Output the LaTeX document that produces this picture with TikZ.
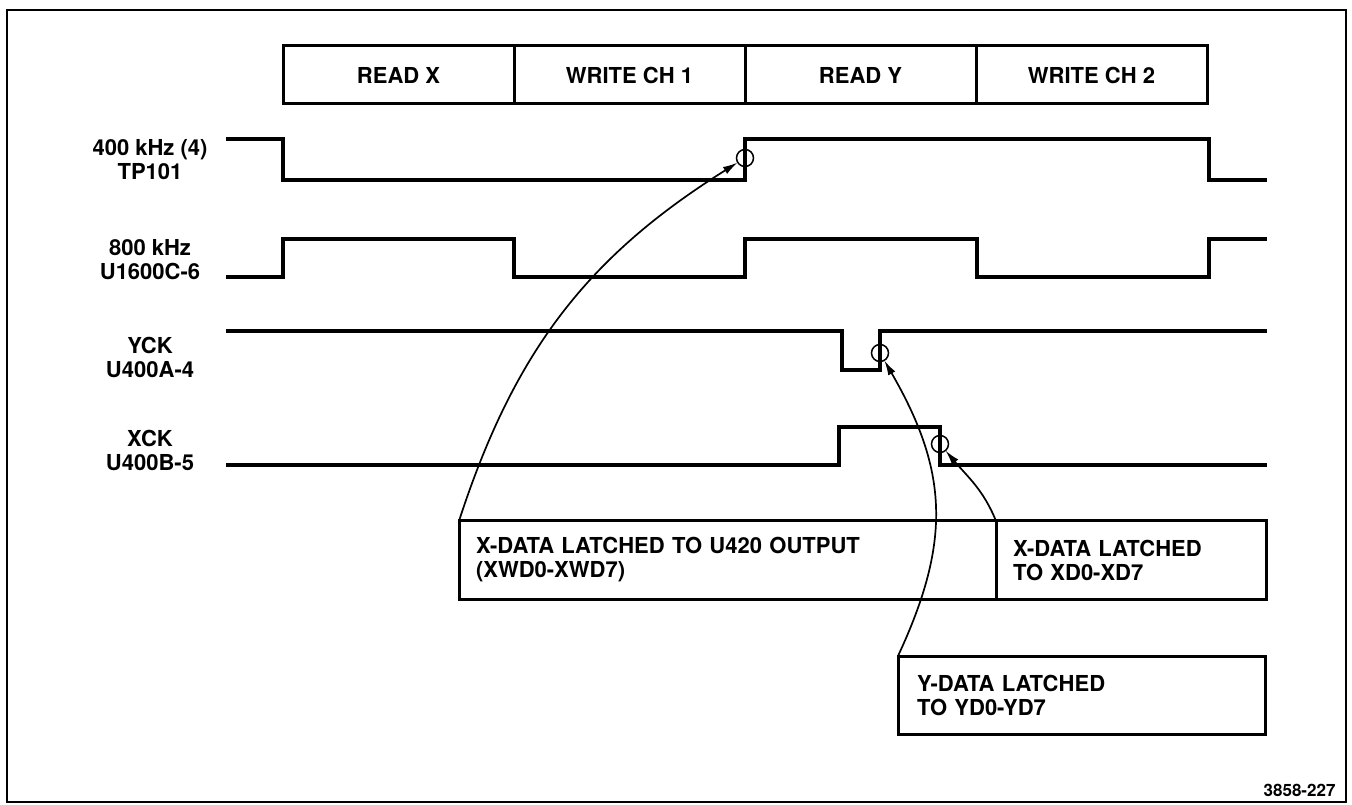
\documentclass[tikz,border=0pt]{standalone}
\usepackage{fontspec}
\setmainfont{TeX Gyre Heros}
\usetikzlibrary{positioning,arrows.meta}

\def\hifont{\fontsize{22}{24}\selectfont\bfseries}
\tikzset{
  phase/.style={draw, line width=3pt, minimum width=231pt, minimum height=58pt, outer sep=0pt, font=\hifont},
  latch/.style={draw, line width=3pt, minimum height=78pt, align=left, outer sep=0pt, inner xsep=17pt, font=\hifont},
  siglabel/.style={align=center, font=\hifont},
  wave/.style={line width=3.2pt},
  edgemark/.style={draw, circle, line width=1.5pt, minimum size=17pt, inner sep=0pt, outer sep=0pt},
  latcharrow/.style={line width=1.7pt, -{Latex[length=15pt,width=8pt]}}
}

\begin{document}
\begin{tikzpicture}[x=1pt,y=1pt]
  \useasboundingbox (0,0) rectangle (1352,804);
  \draw[line width=2pt] (7,2) rectangle (1346,794);

  \node[phase] (rdx) at (398.5,729) {READ X};
  \node[phase, right=0pt of rdx] (wr1) {WRITE CH 1};
  \node[phase, right=0pt of wr1] (rdy) {READ Y};
  \node[phase, right=0pt of rdy] (wr2) {WRITE CH 2};

  \node[siglabel] (l400) at (150,644) {400 kHz (4)\\TP101};
  \node[siglabel] (l800) at (150,544) {800 kHz\\U1600C-6};
  \node[siglabel] (lyck) at (150,447) {YCK\\U400A-4};
  \node[siglabel] (lxck) at (150,354) {XCK\\U400B-5};

  \draw[wave] (226,665) -| (283,624) -| (745,665) -| (1209,624) -- (1267,624);
  \draw[wave] (226,527) -| (283,565) -| (514,527) -| (745,565) -| (977,527) -| (1209,565) -- (1267,565);
  \draw[wave] (226,473) -| (842,434) -| (880,473) -- (1267,473);
  \draw[wave] (226,339) -| (839,377) -| (940,339) -- (1267,339);

  \node[edgemark] (m400) at (745,646) {};
  \node[edgemark] (myck) at (880,451) {};
  \node[edgemark] (mxck) at (940,360) {};

  \node[latch, text width=503pt, anchor=north west] (xwd) at (459,283) {X-DATA LATCHED TO U420 OUTPUT\\(XWD0-XWD7)};
  \node[latch, text width=236pt, right=0pt of xwd] (xd) {X-DATA LATCHED\\TO XD0-XD7};
  \node[latch, text width=329pt, inner xsep=19pt, anchor=north west] (yd) at (898,148) {Y-DATA LATCHED\\TO YD0-YD7};

  \draw[latcharrow] (xwd.north west) to[out=72, in=212] (m400);
  \draw[latcharrow] (yd.north west) to[out=65, in=-60, looseness=1.1] (myck);
  \draw[latcharrow] (xd.north west) to[out=112, in=-50] (mxck);

  \node[anchor=base east, font=\fontsize{17}{20}\selectfont\bfseries] (fignum) at (1339,8) {3858-227};
\end{tikzpicture}
\end{document}
